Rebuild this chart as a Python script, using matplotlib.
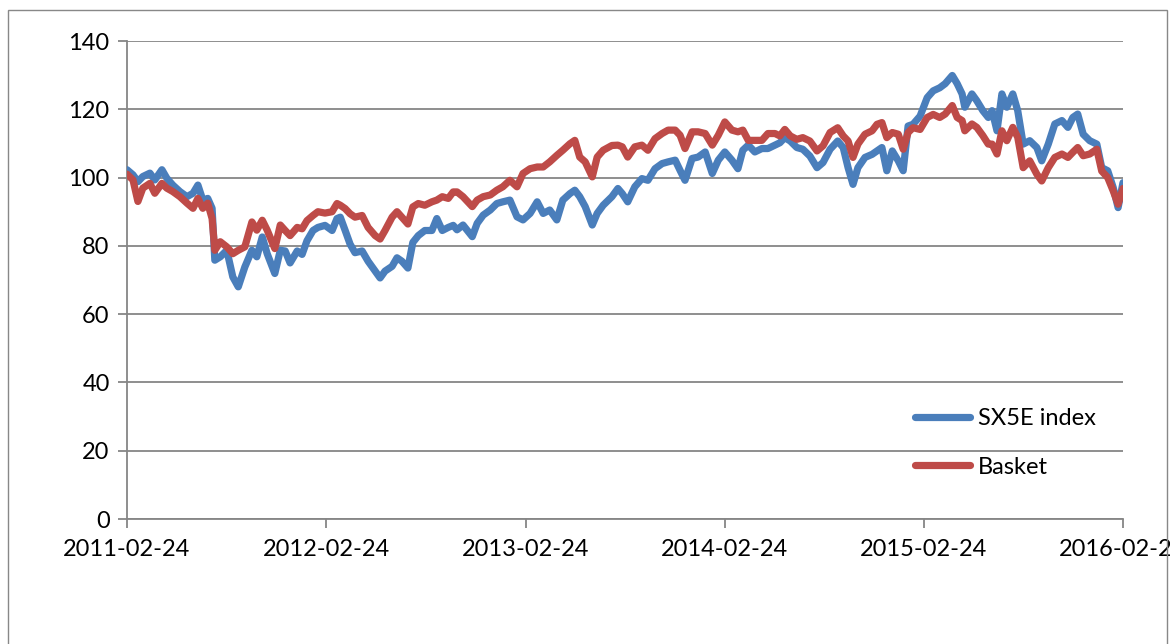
import numpy as np
import pandas as pd
import matplotlib
matplotlib.use("Agg")
import matplotlib.pyplot as plt
from matplotlib.patches import Rectangle

# Data: days since start, SX5E index, basket (both rebased to 100)
start = "2011-02-24"
days = [0, 11, 20, 29, 42, 51, 64, 73, 84, 97, 110, 121, 130, 139, 148, 156,
        161, 171, 183, 194, 204, 216, 229, 238, 248, 257, 271, 281, 290, 299,
        312, 321, 330, 341, 350, 363, 376, 385, 391, 400, 409, 418, 431, 442,
        455, 464, 473, 486, 495, 504, 515, 524, 534, 546, 559, 568, 578, 589,
        598, 605, 616, 633, 642, 653, 666, 678, 689, 702, 715, 726, 739, 752,
        763, 775, 788, 799, 812, 821, 830, 840, 853, 862, 873, 889, 900, 908,
        918, 931, 944, 955, 968, 981, 992, 1005, 1014, 1023, 1036, 1047, 1060,
        1073, 1084, 1096, 1109, 1120, 1129, 1139, 1151, 1164, 1175, 1188, 1197,
        1206, 1216, 1228, 1239, 1252, 1265, 1276, 1289, 1303, 1313, 1322, 1331,
        1340, 1353, 1366, 1375, 1384, 1393, 1403, 1414, 1423, 1432, 1441, 1454,
        1467, 1478, 1490, 1500, 1513, 1522, 1531, 1536, 1549, 1558, 1569, 1579,
        1586, 1595, 1604, 1613, 1624, 1633, 1643, 1655, 1668, 1677, 1689, 1701,
        1714, 1725, 1734, 1743, 1753, 1765, 1778, 1787, 1798, 1808, 1817, 1826]

sx5e = [102.3, 100.8, 98.8, 100.3, 101.3, 99.3, 102.3, 99.8, 97.8, 95.9, 94.4,
        95.4, 97.8, 93.4, 93.9, 91.0, 75.8, 76.8, 78.7, 70.9, 68.0, 73.8, 78.7,
        76.8, 82.6, 77.7, 71.9, 78.7, 78.5, 75.0, 78.5, 77.5, 81.5, 84.5, 85.4,
        86.0, 84.5, 88.0, 88.4, 84.5, 80.5, 78.0, 78.5, 75.5, 72.6, 70.6, 72.6,
        74.0, 76.5, 75.5, 73.5, 81.0, 83.0, 84.5, 84.5, 88.0, 84.5, 85.4, 86.0,
        84.7, 86.1, 82.7, 86.6, 89.0, 90.5, 92.4, 92.9, 93.4, 88.5, 87.6, 89.5,
        92.9, 89.5, 90.5, 87.6, 93.4, 95.3, 96.3, 94.4, 91.5, 86.1, 89.5, 91.9,
        94.4, 96.8, 95.3, 92.9, 97.3, 99.7, 99.2, 102.6, 104.1, 104.6, 105.1,
        102.1, 99.2, 105.6, 106.0, 107.5, 101.2, 105.1, 107.5, 105.1, 102.6,
        108.0, 109.5, 107.5, 108.5, 108.5, 109.5, 110.2, 111.7, 110.7, 108.8,
        108.3, 106.3, 102.9, 104.4, 108.3, 110.7, 108.8, 102.9, 98.0, 102.9,
        105.9, 106.8, 107.8, 108.8, 102.0, 107.8, 104.9, 102.0, 115.1, 115.6,
        118.0, 123.4, 125.4, 126.3, 127.5, 129.9, 127.5, 124.5, 120.6, 124.5,
        122.5, 119.6, 117.6, 119.6, 113.7, 124.5, 120.6, 124.5, 119.6, 109.8,
        110.8, 108.8, 104.9, 109.8, 115.7, 116.7, 114.7, 117.6, 118.6, 112.7,
        110.8, 109.8, 102.9, 102.0, 97.1, 91.2, 98.5]

basket = [101.0, 99.3, 93.0, 96.9, 98.3, 95.4, 98.3, 96.9, 95.9, 94.4, 92.5,
          91.0, 93.9, 91.0, 92.5, 88.0, 78.7, 81.2, 79.7, 77.7, 78.7, 79.7,
          87.0, 84.6, 87.5, 84.6, 79.2, 86.1, 84.5, 83.0, 85.4, 85.0, 87.4,
          88.9, 90.0, 89.6, 90.0, 92.4, 91.9, 90.9, 89.4, 88.4, 88.9, 85.4,
          83.0, 82.0, 84.5, 88.4, 90.0, 88.4, 86.4, 91.4, 92.4, 91.9, 92.9,
          93.4, 94.4, 93.9, 95.8, 95.8, 94.4, 91.5, 93.4, 94.4, 94.9, 96.3,
          97.3, 99.2, 97.3, 101.2, 102.6, 103.1, 103.1, 104.6, 106.5, 108.0,
          109.9, 110.9, 106.0, 104.6, 100.2, 106.0, 108.0, 109.4, 109.5, 109.0,
          106.0, 109.0, 109.5, 108.0, 111.4, 112.9, 113.9, 113.9, 112.4, 108.5,
          113.4, 113.4, 112.9, 109.5, 112.4, 116.3, 113.9, 113.4, 113.9, 110.9,
          110.9, 110.9, 112.9, 112.9, 112.2, 114.1, 112.2, 111.2, 111.7, 110.7,
          107.8, 109.3, 113.2, 114.6, 112.2, 110.7, 105.9, 109.8, 112.7, 113.7,
          115.6, 116.1, 111.7, 113.2, 112.7, 108.3, 113.2, 114.6, 114.1, 117.6,
          118.5, 117.6, 118.6, 121.1, 117.6, 116.7, 113.7, 115.7, 114.7, 112.3,
          109.8, 109.8, 106.9, 113.7, 110.8, 114.7, 111.8, 102.9, 104.9, 101.0,
          99.0, 102.9, 105.9, 106.9, 105.9, 107.4, 108.8, 106.4, 106.9, 108.3,
          101.9, 100.0, 96.1, 92.2, 96.8]

tick_labels = ["2011-02-24", "2012-02-24", "2013-02-24", "2014-02-24",
               "2015-02-24", "2016-02-24"]
series_names = ["SX5E index", "Basket"]

plt.rcParams["font.family"] = ["Lato", "DejaVu Sans"]

dates = pd.Timestamp(start) + pd.to_timedelta(days, unit="D")
ticks = pd.to_datetime(tick_labels)

W, H = 1170, 644
fig = plt.figure(figsize=(W / 100, H / 100), dpi=100)
ax = fig.add_axes([127 / W, 1 - 519 / H, (1123 - 127) / W, (519 - 41) / H])

grey = "#868686"
ax.plot(dates, sx5e, color="#4A7EBB", lw=5.2, solid_capstyle="round",
        solid_joinstyle="round", label=series_names[0], zorder=3)
ax.plot(dates, basket, color="#BE4B48", lw=5.2, solid_capstyle="round",
        solid_joinstyle="round", label=series_names[1], zorder=3)

ax.set_xlim(ticks[0], ticks[-1])
ax.set_ylim(0, 140)
ax.set_yticks(np.arange(0, 141, 20))
ax.set_xticks(ticks)
ax.set_xticklabels(tick_labels)
ax.grid(axis="y", color=grey, lw=1.3)
ax.set_axisbelow(True)

for s in ["top", "right"]:
    ax.spines[s].set_visible(False)
for s in ["left", "bottom"]:
    ax.spines[s].set_color(grey)
    ax.spines[s].set_linewidth(1.3)
ax.tick_params(axis="both", colors=grey, length=6.5, width=1.3,
               labelsize=17, labelcolor="black")
ax.tick_params(axis="x", pad=8)
ax.tick_params(axis="y", pad=6)

ax.legend(loc="upper left", bbox_to_anchor=(915 / W, 1 - 408 / H),
          bbox_transform=fig.transFigure, frameon=False, fontsize=17,
          handlelength=2.35, handletextpad=0.3, labelspacing=1.17,
          borderpad=0, borderaxespad=0)

# outer chart-area border
fig.patches.append(Rectangle((8 / W, -0.05), (1167 - 8) / W, 1.05 - 10 / H,
                             transform=fig.transFigure, fill=False,
                             edgecolor="#888888", lw=1.0))

fig.savefig("out.png", dpi=100)
